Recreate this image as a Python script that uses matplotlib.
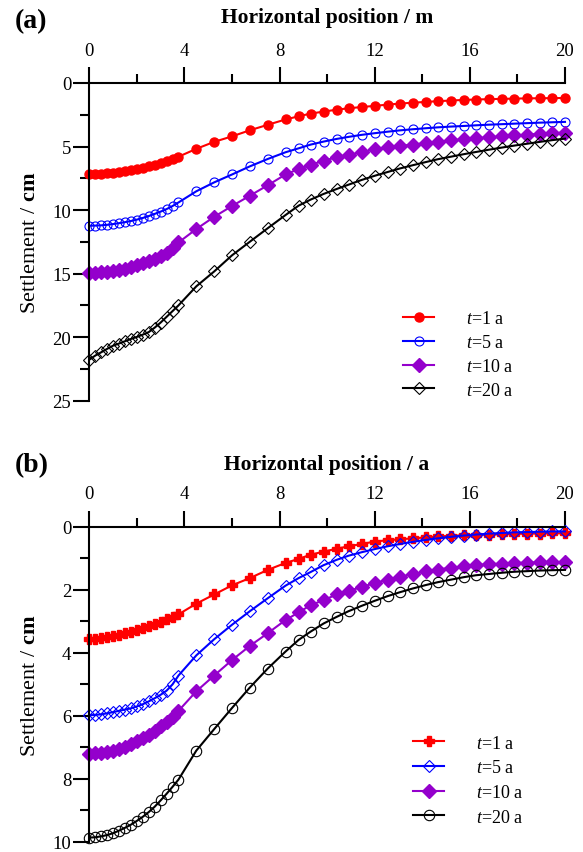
import numpy as np
import matplotlib
matplotlib.use("Agg")
import matplotlib.pyplot as plt
from matplotlib.ticker import MultipleLocator

plt.rcParams["font.family"] = ["Liberation Serif", "DejaVu Serif"]
plt.rcParams["mathtext.fontset"] = "custom"
plt.rcParams["mathtext.rm"] = "Liberation Serif"
plt.rcParams["mathtext.it"] = "Liberation Serif:italic"
plt.rcParams["mathtext.bf"] = "Liberation Serif:bold"

# horizontal positions of the nodes (same for every curve)
x_pos = [0.0, 0.25, 0.5, 0.75, 1.0, 1.25, 1.5, 1.75, 2.0, 2.25, 2.5, 2.75,
         3.0, 3.25, 3.5, 3.75,
         4.5, 5.25, 6.0, 6.75, 7.5, 8.25,
         8.8, 9.3, 9.85, 10.4, 10.9, 11.45, 12.0, 12.55, 13.05, 13.6, 14.15,
         14.65, 15.2, 15.75, 16.25, 16.8, 17.35, 17.85, 18.4, 18.95, 19.45, 20.0]

labels = ["$\\mathit{t}$=1 a", "$\\mathit{t}$=5 a", "$\\mathit{t}$=10 a", "$\\mathit{t}$=20 a"]

# (a) settlement, cm
a_t1 = [7.18, 7.17, 7.15, 7.12, 7.08, 7.02, 6.95, 6.87, 6.78, 6.68, 6.57, 6.45,
        6.32, 6.17, 6.0, 5.8,
        5.18, 4.63, 4.2, 3.72, 3.29, 2.87,
        2.62, 2.41, 2.25, 2.1, 1.99, 1.89, 1.8, 1.7, 1.62, 1.55, 1.49,
        1.43, 1.38, 1.33, 1.3, 1.27, 1.25, 1.23, 1.21, 1.2, 1.19, 1.18]
a_t5 = [11.23, 11.22, 11.2, 11.16, 11.1, 11.03, 10.95, 10.86, 10.75, 10.62, 10.47, 10.3,
        10.12, 9.92, 9.68, 9.4,
        8.52, 7.82, 7.2, 6.56, 5.98, 5.45,
        5.14, 4.85, 4.61, 4.4, 4.24, 4.08, 3.95, 3.83, 3.73, 3.64, 3.56,
        3.49, 3.43, 3.38, 3.33, 3.28, 3.24, 3.2, 3.16, 3.12, 3.09, 3.06]
a_t10 = [14.95, 14.93, 14.9, 14.85, 14.78, 14.7, 14.6, 14.48, 14.35, 14.2, 14.02, 13.82,
         13.6, 13.35, 13.0, 12.55,
         11.49, 10.53, 9.68, 8.87, 8.05, 7.2,
         6.77, 6.45, 6.11, 5.85, 5.65, 5.45, 5.2, 5.05, 4.95, 4.85, 4.72,
         4.62, 4.52, 4.43, 4.36, 4.28, 4.2, 4.13, 4.06, 4.0, 3.95, 3.9]
a_t20 = [21.77, 21.45, 21.19, 20.92, 20.67, 20.5, 20.32, 20.14, 19.98, 19.8, 19.6, 19.25,
         18.85, 18.4, 17.95, 17.5,
         16.0, 14.83, 13.56, 12.49, 11.43, 10.39,
         9.65, 9.18, 8.73, 8.34, 8.0, 7.63, 7.3, 7.0, 6.73, 6.47, 6.22,
         6.0, 5.8, 5.6, 5.43, 5.25, 5.08, 4.93, 4.78, 4.63, 4.5, 4.38]

# (b) settlement, cm
b_t1 = [3.56, 3.55, 3.53, 3.5, 3.46, 3.42, 3.38, 3.33, 3.28, 3.22, 3.16, 3.09,
        3.01, 2.93, 2.85, 2.78,
        2.44, 2.15, 1.86, 1.63, 1.37, 1.15,
        1.02, 0.89, 0.79, 0.7, 0.62, 0.55, 0.47, 0.43, 0.4, 0.37, 0.34,
        0.31, 0.29, 0.27, 0.26, 0.25, 0.24, 0.23, 0.22, 0.22, 0.21, 0.21]
b_t5 = [5.98, 5.97, 5.95, 5.92, 5.88, 5.84, 5.8, 5.76, 5.7, 5.63, 5.54, 5.44,
        5.33, 5.2, 5.0, 4.72,
        4.08, 3.57, 3.11, 2.68, 2.27, 1.87,
        1.63, 1.44, 1.22, 1.05, 0.92, 0.81, 0.71, 0.62, 0.55, 0.48, 0.42,
        0.37, 0.32, 0.28, 0.25, 0.22, 0.2, 0.18, 0.17, 0.16, 0.15, 0.15]
b_t10 = [7.2, 7.19, 7.17, 7.14, 7.1, 7.05, 6.98, 6.9, 6.81, 6.71, 6.6, 6.47,
         6.33, 6.18, 6.02, 5.84,
         5.22, 4.72, 4.23, 3.78, 3.38, 2.96,
         2.72, 2.49, 2.33, 2.15, 2.04, 1.91, 1.79, 1.68, 1.59, 1.5, 1.42,
         1.36, 1.3, 1.26, 1.22, 1.19, 1.17, 1.15, 1.14, 1.13, 1.12, 1.12]
b_t20 = [9.86, 9.85, 9.82, 9.78, 9.72, 9.64, 9.55, 9.45, 9.33, 9.2, 9.05, 8.88,
         8.68, 8.47, 8.25, 8.02,
         7.1, 6.42, 5.75, 5.1, 4.5, 3.96,
         3.59, 3.33, 3.07, 2.86, 2.68, 2.51, 2.35, 2.2, 2.08, 1.96, 1.85,
         1.76, 1.68, 1.6, 1.54, 1.5, 1.46, 1.43, 1.41, 1.39, 1.38, 1.37]

W, H = 583, 853
fig = plt.figure(figsize=(W / 100, H / 100), dpi=100)


def px_axes(left, top, right, bottom):
    return fig.add_axes([left / W, 1 - bottom / H, (right - left) / W, (bottom - top) / H])


def style_axes(ax, ymax, ymajor, yminor):
    ax.set_xlim(0, 20)
    ax.set_ylim(ymax, 0)
    ax.xaxis.tick_top()
    ax.xaxis.set_major_locator(MultipleLocator(4))
    ax.xaxis.set_minor_locator(MultipleLocator(2))
    ax.yaxis.set_major_locator(MultipleLocator(ymajor))
    ax.yaxis.set_minor_locator(MultipleLocator(yminor))
    for s in ["right", "bottom"]:
        ax.spines[s].set_visible(False)
    for s in ["left", "top"]:
        ax.spines[s].set_linewidth(1.5)
    ax.tick_params(which="major", length=11.5, width=1.5, labelsize=13.5)
    ax.tick_params(which="minor", length=6.5, width=1.5)
    ax.tick_params(axis="x", which="both", direction="out", pad=6)
    ax.tick_params(axis="y", which="both", direction="out", pad=1.5)
    ax.set_ylabel("Settlement / $\\mathbf{cm}$", fontsize=16, labelpad=9)


lw = 1.5
leg_kw = dict(frameon=False, fontsize=13, handlelength=1.75, handletextpad=1.75,
              borderpad=0, borderaxespad=0, loc="upper left")

# ---- panel (a)
ax1 = px_axes(89.3, 84, 565, 401.7)
style_axes(ax1, 25, 5, 2.5)
ax1.plot(x_pos, a_t1, color="#ff0000", lw=lw, marker="o", ms=6.5, mfc="#ff0000", mec="#ff0000", label=labels[0])
ax1.plot(x_pos, a_t5, color="#0000ff", lw=lw, marker="o", ms=6.5, mfc="none", mec="#0000ff", mew=0.8, label=labels[1])
ax1.plot(x_pos, a_t10, color="#9400cc", lw=lw, marker="D", ms=7, mfc="#9400cc", mec="#9400cc", label=labels[2])
ax1.plot(x_pos, a_t20, color="black", lw=lw, marker="D", ms=6.5, mfc="none", mec="black", mew=0.8, label=labels[3])
for ln in ax1.lines:
    ln.set_clip_on(False)
ax1.legend(bbox_to_anchor=(0.659, 0.285), labelspacing=0.38, **leg_kw)

# ---- panel (b)
ax2 = px_axes(89.3, 527.7, 565, 843)
style_axes(ax2, 10, 2, 1)
ax2.plot(x_pos, b_t1, color="#ff0000", lw=lw, marker="P", ms=7.5, mfc="#ff0000", mec="#ff0000", label=labels[0])
ax2.plot(x_pos, b_t5, color="#0000ff", lw=lw, marker="D", ms=6, mfc="none", mec="#0000ff", mew=0.8, label=labels[1])
ax2.plot(x_pos, b_t10, color="#9400cc", lw=lw, marker="D", ms=7, mfc="#9400cc", mec="#9400cc", label=labels[2])
ax2.plot(x_pos, b_t20, color="black", lw=lw, marker="o", ms=7.5, mfc="none", mec="black", mew=0.8, label=labels[3])
for ln in ax2.lines:
    ln.set_clip_on(False)
ax2.legend(bbox_to_anchor=(0.68, 0.34), labelspacing=0.42, **leg_kw)

# titles and panel letters
fig.text(327 / W, 1 - 18 / H, "Horizontal position / m", ha="center", va="center",
         fontsize=15.5, fontweight="bold")
fig.text(327 / W, 1 - 465 / H, "Horizontal position / a", ha="center", va="center",
         fontsize=15.5, fontweight="bold")
fig.text(15 / W, 1 - 22 / H, "(a)", ha="left", va="center", fontsize=20, fontweight="bold")
fig.text(15 / W, 1 - 466 / H, "(b)", ha="left", va="center", fontsize=20, fontweight="bold")

fig.savefig("out.png", dpi=100)
